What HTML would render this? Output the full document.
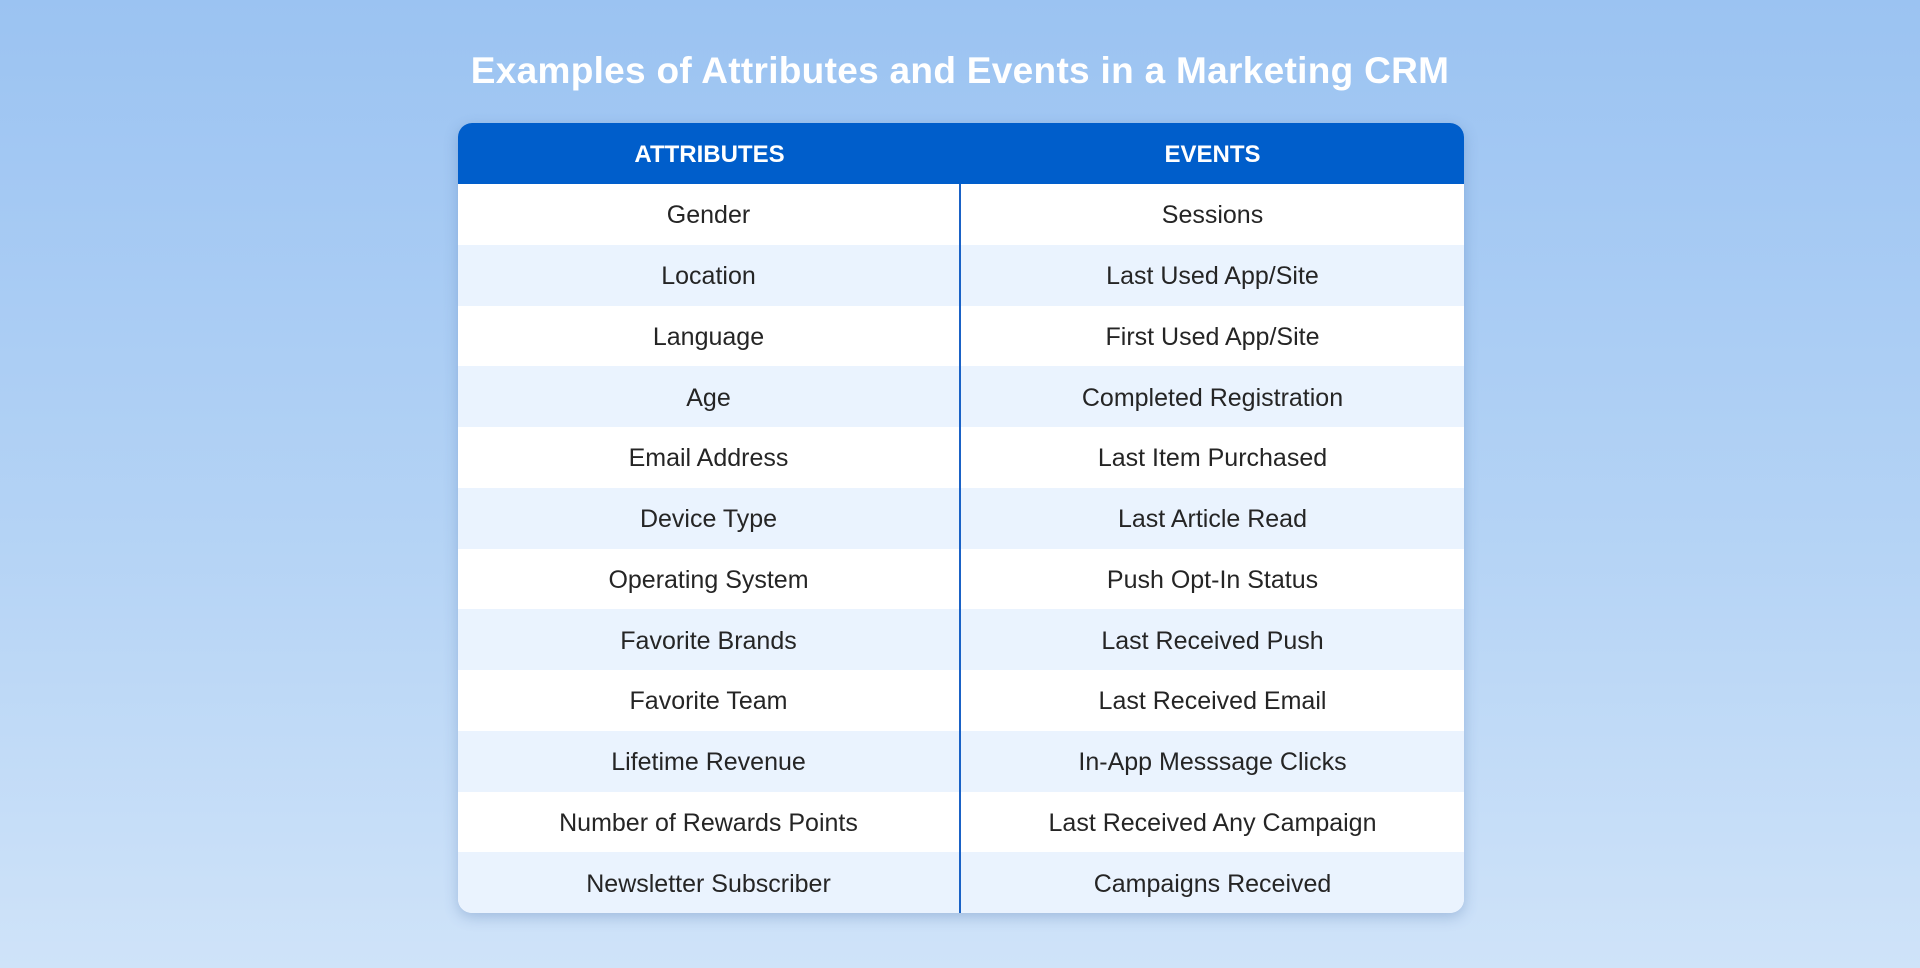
<!DOCTYPE html>
<html><head><meta charset="utf-8"><style>
html,body{margin:0;padding:0;}
body{width:1920px;height:968px;background:linear-gradient(180deg,#9bc3f2 0%,#b4d3f5 55%,#cfe3f9 100%);font-family:"Liberation Sans",sans-serif;position:relative;overflow:hidden;}
h1{position:absolute;top:50px;left:0;width:1920px;text-align:center;margin:0;color:#fff;font-size:37px;font-weight:bold;letter-spacing:0.3px;}
.tbl{position:absolute;left:458px;top:123px;width:1006px;height:790px;border-radius:14px;overflow:hidden;background:#fff;box-shadow:0 4px 14px rgba(60,100,160,0.3);}
.hd{height:61px;background:#005ecb;display:flex;color:#fff;font-weight:bold;font-size:24px;}
.hd div{flex:1;display:flex;align-items:center;justify-content:center;padding-top:2px;}
.row{height:60.75px;display:flex;font-size:25px;color:#252525;}
.row:nth-child(even){background:#eaf3fe;}
.row div{width:503px;display:flex;align-items:center;justify-content:center;padding-top:3px;box-sizing:border-box;}
.row div:first-child{border-right:2px solid #1a62c6;}
</style></head><body>
<h1>Examples of Attributes and Events in a Marketing CRM</h1>
<div class="tbl">
<div class="hd"><div>ATTRIBUTES</div><div>EVENTS</div></div>
<div class="body">
<div class="row"><div>Gender</div><div>Sessions</div></div>
<div class="row"><div>Location</div><div>Last Used App/Site</div></div>
<div class="row"><div>Language</div><div>First Used App/Site</div></div>
<div class="row"><div>Age</div><div>Completed Registration</div></div>
<div class="row"><div>Email Address</div><div>Last Item Purchased</div></div>
<div class="row"><div>Device Type</div><div>Last Article Read</div></div>
<div class="row"><div>Operating System</div><div>Push Opt-In Status</div></div>
<div class="row"><div>Favorite Brands</div><div>Last Received Push</div></div>
<div class="row"><div>Favorite Team</div><div>Last Received Email</div></div>
<div class="row"><div>Lifetime Revenue</div><div>In-App Messsage Clicks</div></div>
<div class="row"><div>Number of Rewards Points</div><div>Last Received Any Campaign</div></div>
<div class="row"><div>Newsletter Subscriber</div><div>Campaigns Received</div></div>
</div>
</div>
</body></html>
